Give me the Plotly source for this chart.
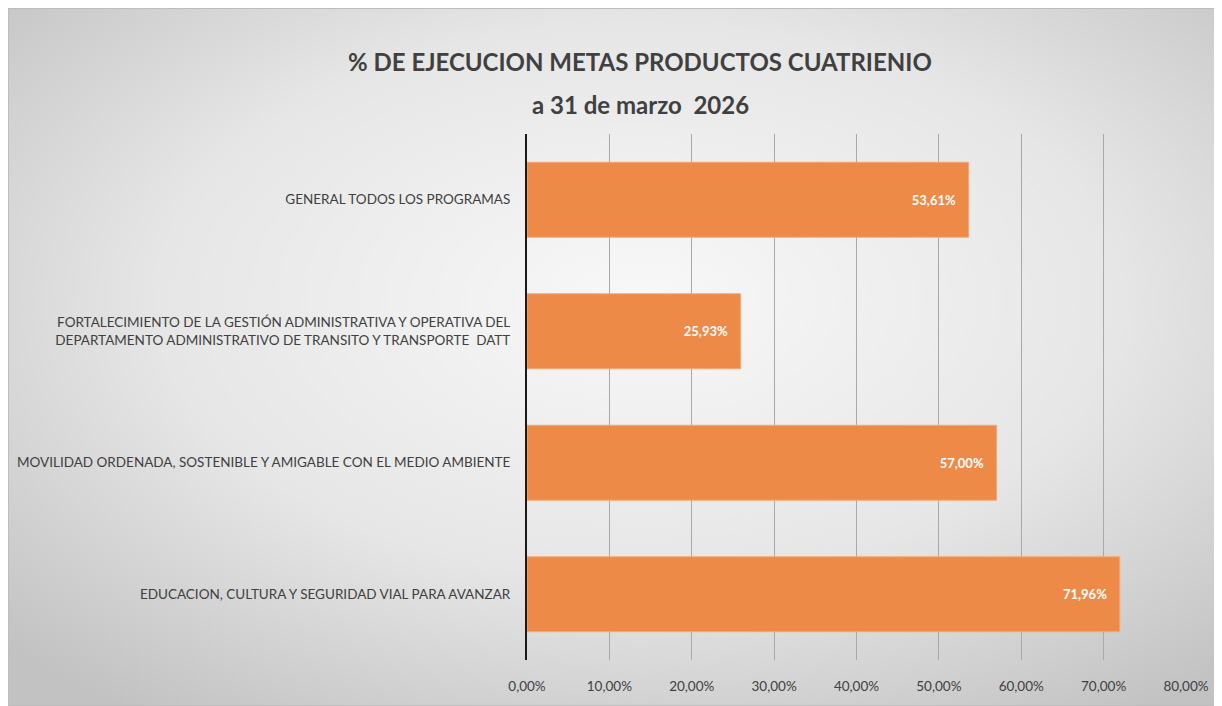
import base64
import plotly.graph_objects as go

categories = [
    "EDUCACION, CULTURA Y SEGURIDAD VIAL PARA AVANZAR",
    "MOVILIDAD ORDENADA, SOSTENIBLE Y AMIGABLE CON EL MEDIO AMBIENTE",
    "FORTALECIMIENTO DE LA GESTIÓN ADMINISTRATIVA Y OPERATIVA DEL<br>DEPARTAMENTO ADMINISTRATIVO DE TRANSITO Y TRANSPORTE  DATT",
    "GENERAL TODOS LOS PROGRAMAS",
]
values = [0.7196, 0.5700, 0.2593, 0.5361]
tick_values = [0, 0.1, 0.2, 0.3, 0.4, 0.5, 0.6, 0.7, 0.8]
title_line1 = "% DE EJECUCION METAS PRODUCTOS CUATRIENIO"
title_line2 = "a 31 de marzo  2026"

# page is offset by the 8px body margin
W, H = 1214, 698
L, R, T, B = 519, 36, 126, 46
pw, ph = W - L - R, H - T - B

svg = (
    f'<svg xmlns="http://www.w3.org/2000/svg" width="{W}" height="{H}" preserveAspectRatio="none">'
    '<defs><radialGradient id="g" cx="52%" cy="42%" r="72%">'
    '<stop offset="0%" stop-color="#f8f8f8"/>'
    '<stop offset="55%" stop-color="#e6e6e6"/>'
    '<stop offset="100%" stop-color="#c2c2c2"/>'
    '</radialGradient></defs>'
    f'<rect width="{W}" height="{H}" fill="url(#g)"/>'
    f'<rect x="0.5" y="0.5" width="{W-1}" height="{H-1}" fill="none" stroke="#bdbdbd" stroke-width="1"/>'
    '</svg>'
)
src = "data:image/svg+xml;base64," + base64.b64encode(svg.encode()).decode()

x0 = -L / pw
x1 = (W - L) / pw
y_top = (H - B) / ph
y_bot = -B / ph


def py(fig_y):
    return (H - B - fig_y) / ph


title_x = (632 - L) / pw
pad = "\u00a0\u00a0\u00a0"

fig = go.Figure(
    go.Bar(
        x=values,
        y=categories,
        orientation="h",
        marker=dict(color="#EE8A48", line=dict(color="#F3A877", width=1)),
        width=0.57,
        text=[f"<b>{v*100:.2f}%</b>".replace(".", ",") + pad for v in values],
        textposition="inside",
        insidetextanchor="end",
        textfont=dict(color="white", size=13, family="Lato"),
        cliponaxis=False,
    )
)

fig.update_layout(
    width=W,
    height=H,
    margin=dict(l=L, r=R, t=T, b=B, pad=0, autoexpand=False),
    paper_bgcolor="white",
    plot_bgcolor="rgba(0,0,0,0)",
    showlegend=False,
    separators=",.",
    uniformtext=dict(mode=False),
    annotations=[
        dict(
            text=f"<b>{title_line1}</b>",
            xref="paper", yref="paper",
            x=title_x, y=py(54),
            xanchor="center", yanchor="middle",
            showarrow=False,
            font=dict(family="Lato", size=24, color="#404040"),
        ),
        dict(
            text=f"<b>{title_line2}</b>",
            xref="paper", yref="paper",
            x=title_x, y=py(97),
            xanchor="center", yanchor="middle",
            showarrow=False,
            font=dict(family="Lato", size=24, color="#404040"),
        ),
    ],
    images=[
        dict(
            source=src,
            xref="paper",
            yref="paper",
            x=x0,
            y=y_top,
            sizex=x1 - x0,
            sizey=y_top - y_bot,
            xanchor="left",
            yanchor="top",
            sizing="stretch",
            layer="below",
        )
    ],
    xaxis=dict(
        range=[0, 0.8],
        tickvals=tick_values,
        tickformat=".2%",
        showgrid=True,
        gridcolor="#a9a9a9",
        gridwidth=1,
        zeroline=False,
        showline=False,
        automargin=False,
        tickfont=dict(family="Lato", size=13.5, color="#404040"),
        ticklabelstandoff=16,
    ),
    yaxis=dict(
        showgrid=False,
        showline=True,
        linecolor="#1a1a1a",
        linewidth=2,
        automargin=False,
        tickfont=dict(family="Lato", size=13.5, color="#404040"),
        ticklabelstandoff=12,
    ),
)

fig.write_html("out.html")
